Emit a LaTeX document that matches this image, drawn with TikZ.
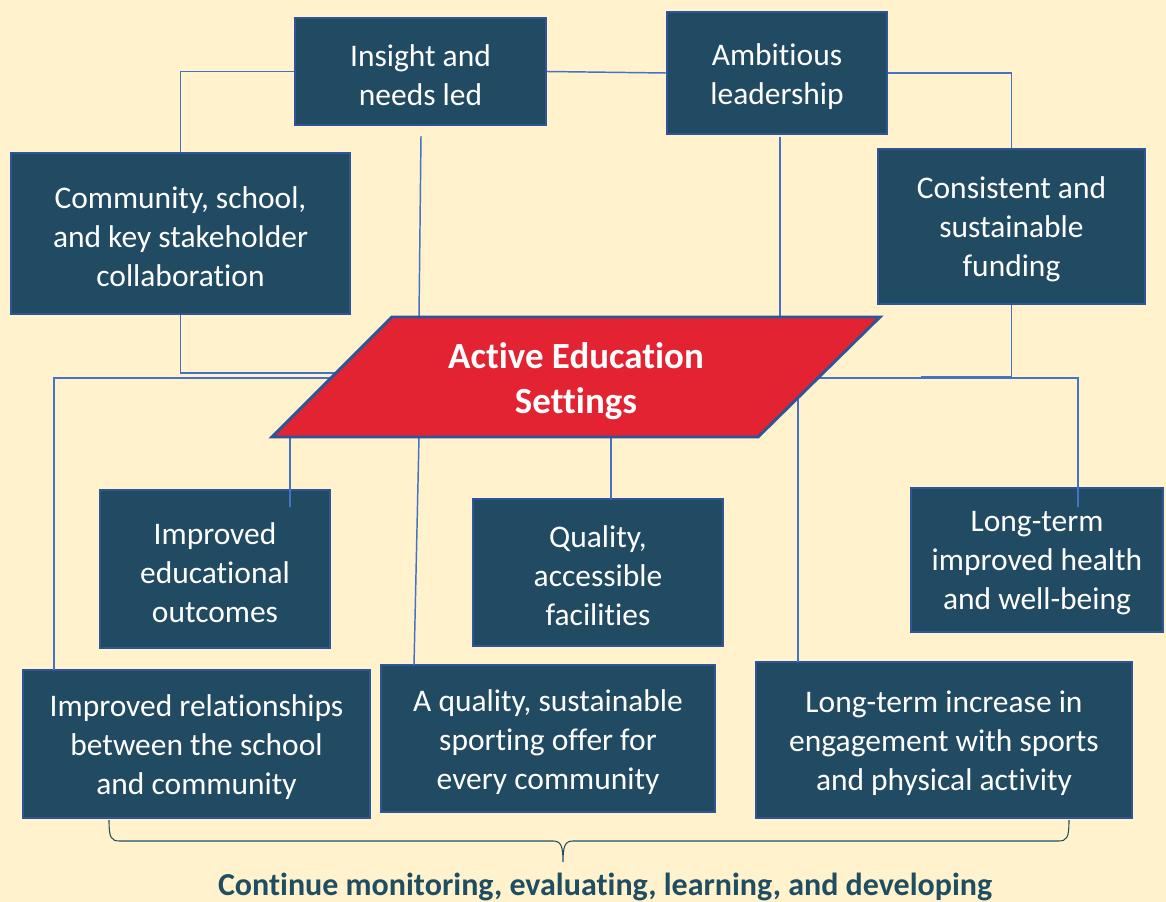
\documentclass[tikz,border=0pt]{standalone}
\usepackage{fontspec}
\setmainfont{Carlito}[Ligatures=NoCommon]
\definecolor{bg}{HTML}{FFF2CC}
\definecolor{boxfill}{HTML}{214B63}
\definecolor{boxedge}{HTML}{2F5597}
\definecolor{linkblue}{HTML}{4472C4}
\definecolor{aesred}{HTML}{E32232}
\definecolor{foot}{HTML}{1F4E63}
\begin{document}
\begin{tikzpicture}[x=0.75pt,y=-0.75pt,
  boxtext/.style={text=white, align=center, inner sep=0pt, yshift=-2.4pt,
    font=\fontsize{23.6}{29.25}\selectfont},
  box/.style n args={3}{draw=boxedge, line width=1.4pt, fill=boxfill,
    inner sep=0pt, minimum width=#1*0.75pt, minimum height=#2*0.75pt,
    label={[boxtext]center:{#3}}},
  wire/.style={draw=linkblue, line width=1.1pt},
  bracestyle/.style={draw=foot, line width=0.8pt},
]
\fill[bg] (0,0) rectangle (1166,902);
\useasboundingbox (0,0) rectangle (1166,902);

% boxes
\node[box={251}{107}{Insight and\\needs led}] (ins) at (420.5,71.5) {};
\node[box={220}{122}{Ambitious\\leadership}] (amb) at (777,73) {};
\node[box={339}{161}{Community, school,\\and key stakeholder\\collaboration}] (com) at (180.5,233.5) {};
\node[box={267}{155}{Consistent and\\sustainable\\funding}] (con) at (1011.5,226.5) {};
\node[box={230}{158}{Improved\\educational\\outcomes}] (edu) at (215,569) {};
\node[box={250}{147}{Quality,\\accessible\\facilities}] (qua) at (598,572.5) {};
\node[box={252}{144}{Long-term\\improved health\\and well-being}] (hea) at (1037,560) {};
\node[box={347}{148}{Improved relationships\\between the school\\and community}] (rel) at (196.5,744) {};
\node[box={334}{147}{A quality, sustainable\\sporting offer for\\every community}] (spo) at (548,738.5) {};
\node[box={376}{156}{Long-term increase in\\engagement with sports\\and physical activity}] (inc) at (944,740) {};

% parallelogram corners and connector ends
\coordinate (pbl) at (272,437);
\coordinate (ptl) at (392,317);
\coordinate (ptr) at (880,317);
\coordinate (pbr) at (758,437);
\coordinate (insd) at (421,136);
\coordinate (pt1) at (419,317);
\coordinate (ambd) at (780,137);
\coordinate (pt2) at (780,317);
\coordinate (pl1) at (337,373);
\coordinate (pl2) at (332,378);
\coordinate (relt) at (54,670);
\coordinate (pb1) at (290,437);
\coordinate (edut) at (290,507);
\coordinate (pb2) at (419,437);
\coordinate (spot) at (414,665);
\coordinate (pb3) at (611,437);
\coordinate (quat) at (611,499);
\coordinate (conj) at (921,377);
\coordinate (conk) at (1012,377);
\coordinate (pr1) at (818,378);
\coordinate (heat) at (1078,507);
\coordinate (pr2) at (798,398);
\coordinate (inct) at (798,662);

% connectors
\draw[wire] (com.north) |- (ins.west);
\draw[wire] (ins.east) -- (amb.west);
\draw[wire] (amb.east) -| (con.north);
\draw[wire] (insd) -- (pt1);
\draw[wire] (ambd) -- (pt2);
\draw[wire] (com.south) |- (pl1);
\draw[wire] (relt) |- (pl2);
\draw[wire] (pb1) -- (edut);
\draw[wire] (pb2) -- (spot);
\draw[wire] (pb3) -- (quat);
\draw[wire] (con.south) |- (conj);
\draw[wire, line width=2pt] (conj) -- (conk);
\draw[wire] (pr1) -| (heat);
\draw[wire] (pr2) -- (inct);

% central parallelogram
\draw[draw=boxedge, line width=2.2pt, fill=aesred, line join=miter] (pbl) -- (ptl) -- (ptr) -- (pbr) -- cycle;
\node[font=\bfseries\fontsize{27.7}{33.75}\selectfont, text=white, align=center] (aes) at (576,381.5) {Active Education\\Settings};

% brace
\coordinate (bl) at (109,820);
\coordinate (br) at (1069,820);
\coordinate (btip) at (563,862);
\draw[bracestyle] (bl) .. controls (109,838) and (111,841) .. (120,841) -- (553,841)
  .. controls (561,841) and (563,846) .. (btip)
  .. controls (563,846) and (565,841) .. (573,841) -- (1058,841)
  .. controls (1067,841) and (1069,838) .. (br);

\node[anchor=base, font=\bfseries\fontsize{24}{28}\selectfont, text=foot] (foottext) at (605,895) {Continue monitoring, evaluating, learning, and developing};
\end{tikzpicture}
\end{document}
